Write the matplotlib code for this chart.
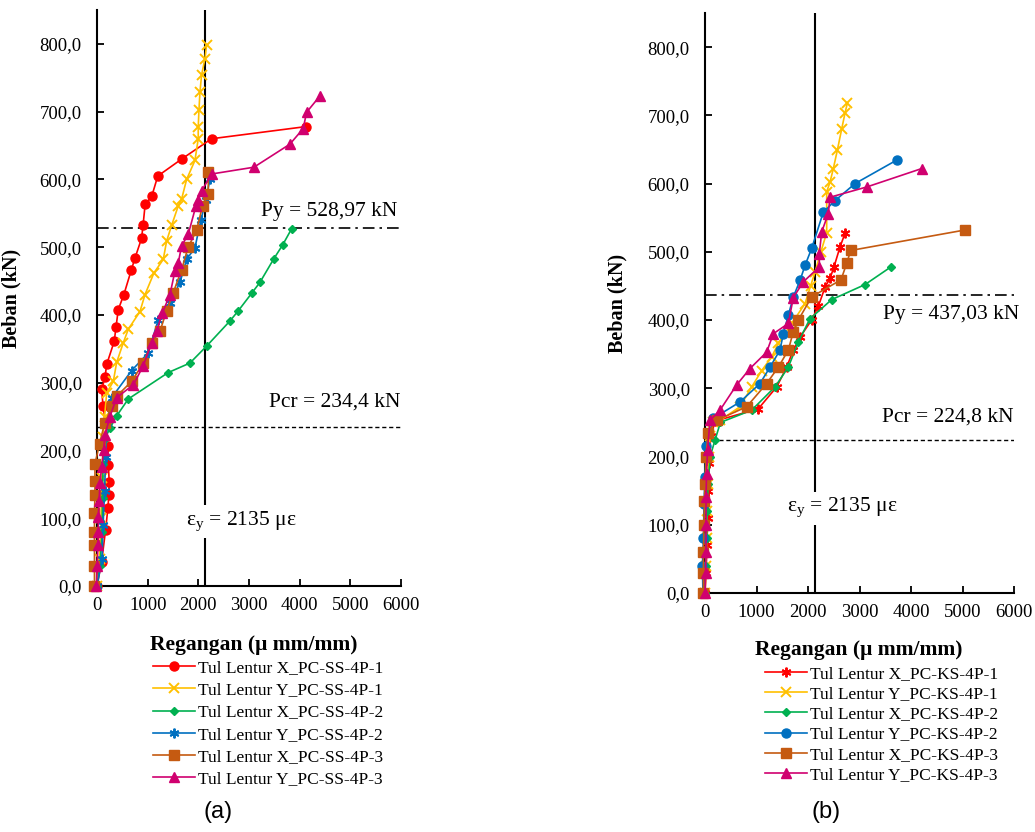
import matplotlib.pyplot as plt
import matplotlib.ticker as mticker

plt.rcParams['font.family'] = ['Liberation Serif', 'DejaVu Serif']
plt.rcParams['mathtext.fontset'] = 'custom'
plt.rcParams['mathtext.rm'] = 'Liberation Serif'

# ---- data (a) PC-SS-4P ----
red_a_x = [0, 90, 170, 215, 235, 240, 225, 215, 170, 120, 92, 158, 191, 340, 375, 420, 530, 680, 750, 880, 910, 950, 1080, 1200, 1670, 2260, 4130]
red_a_y = [0, 35, 83, 115, 135, 154, 179, 206, 240, 265, 290, 308, 327, 361, 382, 408, 430, 467, 484, 513, 533, 563, 575, 605, 630, 660, 678]
yellow_a_x = [0, 50, 80, 100, 120, 150, 191, 322, 388, 519, 618, 848, 947, 1124, 1308, 1374, 1472, 1604, 1670, 1769, 1933, 1998, 1998, 2012, 2032, 2064, 2130, 2163]
yellow_a_y = [0, 40, 100, 160, 220, 250, 285, 302, 330, 359, 379, 405, 430, 462, 482, 509, 532, 561, 571, 600, 628, 660, 677, 702, 729, 754, 778, 798]
green_a_x = [0, 60, 100, 110, 120, 140, 256, 388, 618, 1406, 1834, 2163, 2623, 2787, 3063, 3215, 3491, 3662, 3840]
green_a_y = [0, 30, 80, 130, 180, 215, 233, 251, 276, 315, 329, 354, 391, 406, 433, 448, 483, 503, 527]
blue_a_x = [0, 100, 120, 150, 170, 200, 290, 684, 1012, 1209, 1440, 1637, 1769, 1933, 2050, 2150, 2229]
blue_a_y = [0, 40, 90, 140, 190, 240, 278, 318, 344, 393, 418, 448, 482, 499, 540, 570, 600]
orange_a_x = [-50, -50, -50, -50, -50, -40, -40, -40, 50, 150, 300, 388, 684, 914, 1078, 1243, 1374, 1506, 1670, 1800, 1966, 2083, 2196, 2196]
orange_a_y = [0, 30, 60, 80, 107, 135, 155, 180, 210, 240, 265, 280, 302, 329, 359, 376, 406, 433, 467, 500, 525, 561, 578, 611]
magenta_a_x = [-10, 0, 20, 25, 26, 40, 59, 92, 130, 158, 256, 388, 717, 914, 1078, 1177, 1290, 1440, 1539, 1604, 1670, 1801, 1953, 2000, 2064, 2262, 3097, 3807, 4070, 4136, 4398]
magenta_a_y = [0, 30, 60, 80, 102, 125, 152, 176, 200, 223, 250, 278, 297, 325, 359, 376, 403, 430, 465, 477, 502, 519, 561, 570, 583, 608, 618, 652, 675, 699, 723]

# ---- data (b) PC-KS-4P ----
red_b_x = [0, 20, 40, 50, 60, 80, 110, 200, 1035, 1392, 1586, 1715, 1845, 2071, 2200, 2330, 2427, 2505, 2621, 2718]
red_b_y = [0, 30, 70, 110, 150, 190, 230, 252, 270, 302, 331, 356, 375, 400, 420, 448, 461, 478, 507, 527]
yellow_b_x = [0, 20, 30, 40, 50, 70, 100, 150, 291, 680, 907, 1101, 1295, 1424, 1683, 1942, 2050, 2136, 2250, 2363, 2363, 2427, 2492, 2570, 2654, 2718, 2764]
yellow_b_y = [0, 40, 80, 120, 160, 200, 230, 250, 253, 273, 302, 326, 346, 366, 395, 424, 450, 470, 500, 528, 588, 602, 622, 649, 680, 703, 718]
green_b_x = [0, 10, 30, 40, 60, 100, 194, 300, 907, 1359, 1618, 1812, 2039, 2460, 3107, 3612]
green_b_y = [0, 40, 80, 120, 160, 200, 224, 250, 268, 302, 331, 368, 402, 430, 452, 478]
blue_b_x = [-40, -50, -30, -20, 0, 20, 162, 680, 1068, 1262, 1456, 1521, 1618, 1715, 1845, 1942, 2071, 2297, 2524, 2913, 3736]
blue_b_y = [0, 40, 80, 130, 170, 215, 256, 280, 307, 331, 356, 380, 407, 434, 458, 480, 505, 558, 575, 600, 635]
orange_b_x = [-30, -30, -30, -20, -10, 0, 20, 60, 227, 809, 1197, 1424, 1618, 1715, 1812, 2071, 2641, 2751, 2829, 5049]
orange_b_y = [0, 30, 60, 100, 135, 160, 200, 235, 253, 273, 307, 331, 356, 383, 400, 434, 459, 483, 502, 532]
magenta_b_x = [0, 10, 20, 20, 20, 30, 50, 97, 291, 615, 874, 1197, 1327, 1618, 1715, 1909, 2220, 2220, 2265, 2394, 2427, 3139, 4207]
magenta_b_y = [0, 30, 60, 100, 140, 175, 210, 253, 268, 305, 329, 353, 380, 395, 433, 456, 478, 497, 529, 556, 580, 595, 622]

labels_a = ['Tul Lentur X_PC-SS-4P-1', 'Tul Lentur Y_PC-SS-4P-1', 'Tul Lentur X_PC-SS-4P-2',
            'Tul Lentur Y_PC-SS-4P-2', 'Tul Lentur X_PC-SS-4P-3', 'Tul Lentur Y_PC-SS-4P-3']
labels_b = ['Tul Lentur X_PC-KS-4P-1', 'Tul Lentur Y_PC-KS-4P-1', 'Tul Lentur X_PC-KS-4P-2',
            'Tul Lentur Y_PC-KS-4P-2', 'Tul Lentur X_PC-KS-4P-3', 'Tul Lentur Y_PC-KS-4P-3']

EPS_Y = 2135
PY_A, PCR_A = 528.97, 234.4
PY_B, PCR_B = 437.03, 224.8

colors = ['#FF0000', '#FFC000', '#00B050', '#0070C0', '#C55A11', '#D0006F']
ASTER = (6, 2, 0)
markers_a = ['o', 'x', 'D', ASTER, 's', '^']
markers_b = [ASTER, 'x', 'D', 'o', 's', '^']
sizes = {'o': 6.5, 'x': 7, 'D': 4.5, ASTER: 7, 's': 6.5, '^': 7}

W, H = 1035, 832
fig = plt.figure(figsize=(W / 100, H / 100), dpi=100)


def box(x0, y0, x1, y1):
    return [x0 / W, 1 - y1 / H, (x1 - x0) / W, (y1 - y0) / H]


def comma(v, pos):
    return f"{v:.1f}".replace('.', ',')


def setup(ax):
    ax.set_xlim(0, 6000)
    ax.set_ylim(0, 850)
    ax.spines['top'].set_visible(False)
    ax.spines['right'].set_visible(False)
    for s in ('left', 'bottom'):
        ax.spines[s].set_linewidth(1.5)
    ax.set_xticks(range(0, 6001, 1000))
    ax.set_yticks(range(0, 801, 100))
    ax.yaxis.set_major_formatter(mticker.FuncFormatter(comma))
    ax.tick_params(axis='both', direction='in', length=5, width=1.3, labelsize=13.5)
    ax.tick_params(axis='y', pad=11)
    ax.tick_params(axis='x', pad=8)
    for lab in ax.get_xticklabels() + ax.get_yticklabels():
        lab.set_fontfamily('Liberation Serif')
    ax.set_ylabel('Beban (kN)', fontsize=14.5, fontweight='bold', labelpad=4)


def draw(ax, xs, ys, markers, labels):
    handles = []
    for x, y, c, m, lab in zip(xs, ys, colors, markers, labels):
        h, = ax.plot(x, y, color=c, marker=m, markersize=sizes[m], lw=1.2,
                     mew=1.4 if m in ('x', ASTER) else 1, label=lab, clip_on=False, zorder=3)
        handles.append(h)
    return handles


def refs(ax, py, pcr):
    ax.axhline(py, color='black', lw=1.2, ls=(0, (7, 3, 1.5, 3)), zorder=2)
    ax.axhline(pcr, color='black', lw=1.0, ls=(0, (3, 2)), zorder=2)
    ax.axvline(EPS_Y, color='black', lw=1.5, zorder=2)


# (a)
ax1 = fig.add_axes(box(97, 10, 401, 586))
setup(ax1)
ax1.yaxis.set_label_coords(-0.25, 0.5)
h1 = draw(ax1, [red_a_x, yellow_a_x, green_a_x, blue_a_x, orange_a_x, magenta_a_x],
          [red_a_y, yellow_a_y, green_a_y, blue_a_y, orange_a_y, magenta_a_y], markers_a, labels_a)
refs(ax1, PY_A, PCR_A)
ax1.text(5920, 553, 'Py = 528,97 kN', ha='right', va='center', fontsize=15.5)
ax1.text(5980, 271, 'Pcr = 234,4 kN', ha='right', va='center', fontsize=15.5)
ax1.text(2840, 95, r'ε$_\mathregular{y}$ = 2135 με', ha='center', va='center', fontsize=15.5,
         bbox=dict(facecolor='white', edgecolor='none', pad=3), zorder=4)

# (b)
ax2 = fig.add_axes(box(705, 13, 1014, 593))
setup(ax2)
ax2.yaxis.set_label_coords(-0.25, 0.5)
h2 = draw(ax2, [red_b_x, yellow_b_x, green_b_x, blue_b_x, orange_b_x, magenta_b_x],
          [red_b_y, yellow_b_y, green_b_y, blue_b_y, orange_b_y, magenta_b_y], markers_b, labels_b)
refs(ax2, PY_B, PCR_B)
ax2.text(6100, 408, 'Py = 437,03 kN', ha='right', va='center', fontsize=15.5)
ax2.text(6000, 258, 'Pcr = 224,8 kN', ha='right', va='center', fontsize=15.5)
ax2.text(2660, 124, r'ε$_\mathregular{y}$ = 2135 με', ha='center', va='center', fontsize=15.5,
         bbox=dict(facecolor='white', edgecolor='none', pad=3), zorder=4)

# x labels, legends, panel letters
fig.text(254 / W, 1 - 645 / H, 'Regangan (μ mm/mm)', ha='center', va='center',
         fontsize=15.5, fontweight='bold')
fig.text(859 / W, 1 - 650 / H, 'Regangan (μ mm/mm)', ha='center', va='center',
         fontsize=15.5, fontweight='bold')

fig.legend(handles=h1, loc='upper left', bbox_to_anchor=(153 / W, 1 - 660 / H), frameon=False,
           fontsize=12.5, borderpad=0, borderaxespad=0, handlelength=2.4, handletextpad=0.2,
           labelspacing=0.35)
fig.legend(handles=h2, loc='upper left', bbox_to_anchor=(765 / W, 1 - 666 / H), frameon=False,
           fontsize=12.5, borderpad=0, borderaxespad=0, handlelength=2.4, handletextpad=0.2,
           labelspacing=0.23)

fig.text(218 / W, 1 - 812 / H, '(a)', ha='center', va='center', fontsize=17, family='Liberation Sans')
fig.text(826 / W, 1 - 812 / H, '(b)', ha='center', va='center', fontsize=17, family='Liberation Sans')

fig.savefig('out.png', dpi=100)
